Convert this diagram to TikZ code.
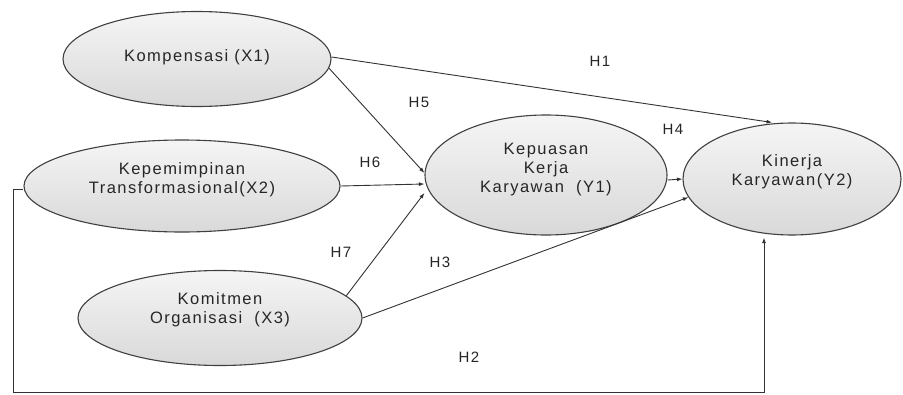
\documentclass[tikz,border=0pt]{standalone}
\usepackage{fontspec}
\setmainfont{Liberation Sans}[LetterSpace=9]
\usetikzlibrary{shapes.geometric,arrows.meta}
\begin{document}
\begin{tikzpicture}[x=1pt,y=-1pt,
  elli/.style={ellipse, draw=gray!50!black, line width=1.1pt, top color=gray!8, bottom color=gray!30, inner sep=0pt},
  etxt/.style={align=center, text=black!85, font=\fontsize{16.5}{19}\selectfont, inner sep=0pt},
  hlab/.style={text=black!85, font=\fontsize{15}{18}\selectfont, inner sep=0pt},
  conn/.style={draw=gray!40!black, line width=0.9pt},
  arr/.style={conn, -{Latex[length=5.5pt,width=4pt]}}]
\useasboundingbox[fill=white] (0,0) rectangle (903,394);
% ellipses
\node[elli, minimum width=268pt, minimum height=95pt,
  label={[etxt,name=x1t,yshift=2pt]center:Kompensasi (X1)}] (x1) at (197,59) {};
\node[elli, minimum width=316pt, minimum height=92pt,
  label={[etxt,name=x2t,yshift=6pt]center:Kepemimpinan\\Transformasional(X2)}] (x2) at (182,186) {};
\node[elli, minimum width=284pt, minimum height=95pt,
  label={[etxt,name=x3t,yshift=8pt]center:Komitmen\\Organisasi~~(X3)}] (x3) at (220,318) {};
\node[elli, minimum width=242pt, minimum height=120pt,
  label={[etxt,name=y1t,yshift=5pt]center:Kepuasan\\Kerja\\Karyawan~~(Y1)}] (y1) at (546,175) {};
\node[elli, minimum width=218pt, minimum height=112pt,
  label={[etxt,name=y2t,yshift=7pt]center:Kinerja\\Karyawan(Y2)}] (y2) at (792,179) {};
% hypothesis labels
\node[hlab] (h1) at (600,61) {H1};
\node[hlab] (h5) at (419,102) {H5};
\node[hlab] (h6) at (370,162) {H6};
\node[hlab] (h4) at (673,129) {H4};
\node[hlab] (h7) at (341,252) {H7};
\node[hlab] (h3) at (440,262) {H3};
\node[hlab] (h2) at (469,357) {H2};
% connectors
\draw[arr] ([yshift=2pt]x1.east) -- ([xshift=-20pt]y2.north);
\draw[arr] (x1.-4) -- ([yshift=2pt]y1.west);
\draw[arr] (x2.east) -- ([yshift=-9pt]y1.west);
\draw[arr] (x3.10) -- ([yshift=-18pt]y1.west);
\draw[arr] ([yshift=-5pt]y1.east) -- (y2.west);
\draw[arr] (x3.east) -- (y2.190);
\coordinate (c1) at (13,392);
\coordinate (c2) at (764,392);
\draw[arr] ([yshift=-3pt]x2.west) -| (c1) -- (c2) -- ([yshift=-2pt]c2 |- y2.south);
\end{tikzpicture}
\end{document}
